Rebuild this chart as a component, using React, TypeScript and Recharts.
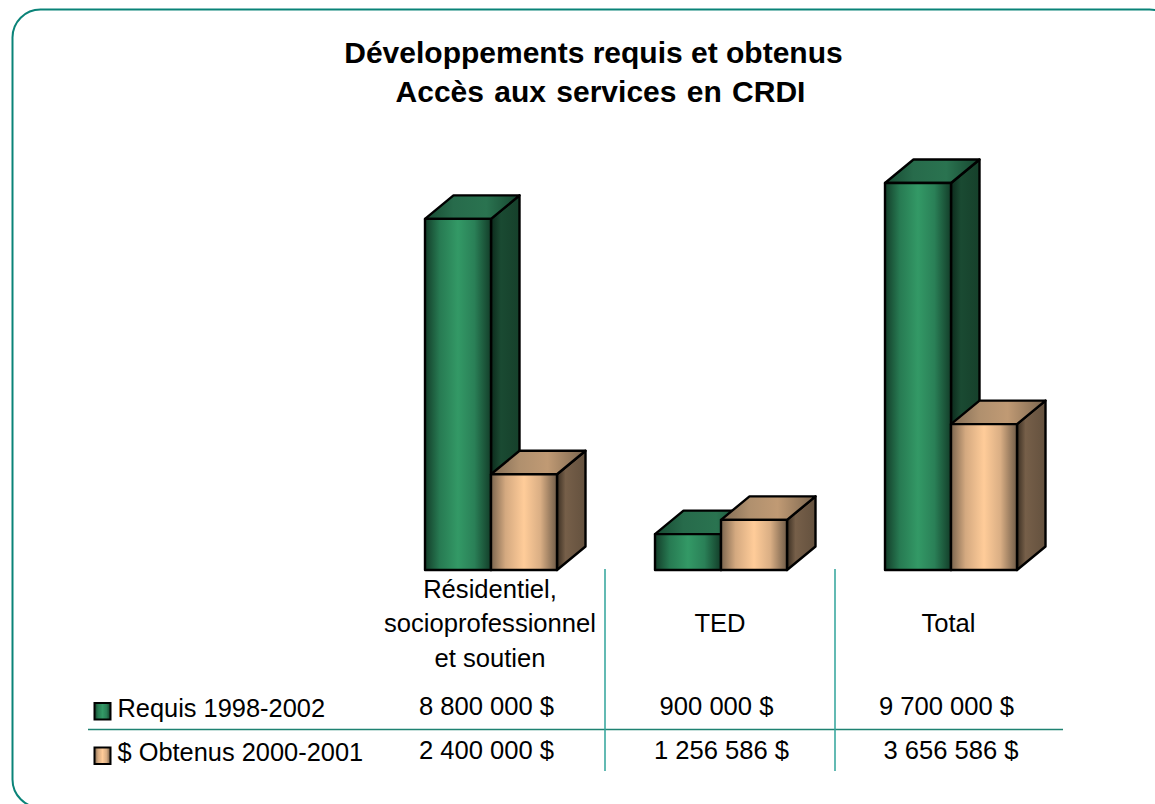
import React from "react";
import { BarChart, Bar, XAxis, YAxis, Legend } from "recharts";

const categories = ["Résidentiel,\nsocioprofessionnel\net soutien", "TED", "Total"];
const requis = [8800000, 900000, 9700000];
const obtenus = [2400000, 1256586, 3656586];
const requisLabels = ["8 800 000 $", "900 000 $", "9 700 000 $"];
const obtenusLabels = ["2 400 000 $", "1 256 586 $", "3 656 586 $"];
const seriesNames = ["Requis 1998-2002", "$ Obtenus 2000-2001"];
const titleLines = ["Développements requis et obtenus", "Accès aux services en CRDI"];

const chartData = categories.map((c, i) => ({ category: c, requis: requis[i], obtenus: obtenus[i] }));

const FONT = "'Liberation Sans', Arial, sans-serif";
const FS = 25.6;
const categoryShift = [-1, -1, -2.5];
const requisShift = [-4.5, -4.5, -4.5];
const obtenusShift = [-4.5, 0.5, 0];

const stops = (id: string, s: [number, string][]) => (
  <linearGradient id={id} x1="0" y1="0" x2="1" y2="0" key={id}>
    {s.map(([o, c]) => <stop key={o} offset={o} stopColor={c} />)}
  </linearGradient>
);

const DX = 28.5;
const DY = 23.5;

const Bar3D = (kind: "g" | "p") => (props: any) => {
  const { x, y, width, height } = props;
  const common = { stroke: "#000", strokeWidth: 2.4, strokeLinejoin: "round" as const };
  const r = x + width;
  const b = y + height;
  return (
    <g>
      <polygon points={`${r},${y} ${r + DX},${y - DY} ${r + DX},${b - DY} ${r},${b}`} fill={`url(#${kind}Side)`} {...common} />
      <polygon points={`${x},${y} ${x + DX},${y - DY} ${r + DX},${y - DY} ${r},${y}`} fill={`url(#${kind}Top)`} {...common} />
      <rect x={x} y={y} width={width} height={height} fill={`url(#${kind}Front)`} {...common} />
    </g>
  );
};

const CategoryTick = (props: any) => {
  const { x, index, payload } = props;
  const lines: string[] = String(payload.value).split("\n");
  const baselines = lines.length === 3 ? [598, 632, 667] : [632];
  const txt = { fontFamily: FONT, fontSize: FS, fill: "#000", textAnchor: "middle" as const };
  return (
    <g>
      {lines.map((l, i) => (
        <text key={l} x={x + categoryShift[index]} y={baselines[i]} {...txt}>{l}</text>
      ))}
      <text x={x + requisShift[index]} y={715} {...txt}>{requisLabels[index]}</text>
      <text x={x + obtenusShift[index]} y={759} {...txt}>{obtenusLabels[index]}</text>
      {index < 2 && <line x1={x + 114} x2={x + 114} y1={569} y2={771} stroke="#2fa39a" strokeWidth={1.5} />}
    </g>
  );
};

const LegendRows = (props: any) => {
  const rows = [...(props.payload || [])].sort(
    (a: any, b: any) => seriesNames.indexOf(a.value) - seriesNames.indexOf(b.value)
  );
  return (
    <svg width={400} height={804} style={{ position: "absolute", left: 0, top: 0, overflow: "visible" }}>
      {rows.map((item: any, i: number) => (
        <g key={item.value}>
          <rect x={94.5} y={703 + i * 44.5} width={16} height={16.5} fill={i === 0 ? "url(#gFront)" : "url(#pFront)"} stroke="#000" strokeWidth={2} />
          <text x={117.5} y={716.7 + i * 44.3} fontFamily={FONT} fontSize={25.4} fill="#000">{item.value}</text>
        </g>
      ))}
    </svg>
  );
};

export default function App() {
  return (
    <div style={{ position: "absolute", left: 0, top: 0, width: 1155, height: 804, overflow: "hidden", background: "#fff" }}>
      <svg width={1155} height={804} style={{ position: "absolute", left: 0, top: 0 }}>
        <defs>
          {stops("gFront", [[0, "#133d29"], [0.22, "#277a52"], [0.5, "#339966"], [0.75, "#2a8057"], [1, "#133d29"]])}
          {stops("gTop", [[0, "#174a32"], [0.3, "#276b4b"], [0.65, "#2a7350"], [1, "#16452f"]])}
          {stops("gSide", [[0, "#0c2a1c"], [0.35, "#1a4a32"], [1, "#16402b"]])}
          {stops("pFront", [[0, "#7a644e"], [0.22, "#d4a980"], [0.5, "#ffcc99"], [0.75, "#d9ae84"], [1, "#6f5b47"]])}
          {stops("pTop", [[0, "#7f6a53"], [0.3, "#b0906e"], [0.6, "#c09a74"], [1, "#7a654e"]])}
          {stops("pSide", [[0, "#3a2e22"], [0.3, "#765f49"], [1, "#64513e"]])}
        </defs>
        <rect x={12.5} y={9.5} width={1165} height={798} rx={28} ry={28} fill="none" stroke="#0a8378" strokeWidth={2} />
        {titleLines.map((t, i) => (
          <text key={t} x={[593.5, 600.5][i]} y={[63, 102][i]} textAnchor="middle" fontFamily={FONT} fontWeight={700} fontSize={30} wordSpacing={[0, 2][i]} fill="#000">{t}</text>
        ))}
        <line x1={88} x2={1063} y1={729.5} y2={729.5} stroke="#1f8272" strokeWidth={1.4} />
      </svg>
      <div style={{ position: "absolute", left: 0, top: 0 }}>
        <BarChart width={1155} height={804} data={chartData} margin={{ top: 171, right: 89, bottom: 0, left: 376 }} barSize={66} barGap={0}>
          <XAxis dataKey="category" interval={0} axisLine={false} tickLine={false} height={234} tick={CategoryTick} />
          <YAxis hide domain={[0, 10000000]} />
          <Legend content={LegendRows} wrapperStyle={{ left: 0, top: 0, width: 0, height: 0 }} />
          <Bar dataKey="requis" name={seriesNames[0]} fill="#339966" isAnimationActive={false} shape={Bar3D("g")} />
          <Bar dataKey="obtenus" name={seriesNames[1]} fill="#ffcc99" isAnimationActive={false} shape={Bar3D("p")} />
        </BarChart>
      </div>
    </div>
  );
}
